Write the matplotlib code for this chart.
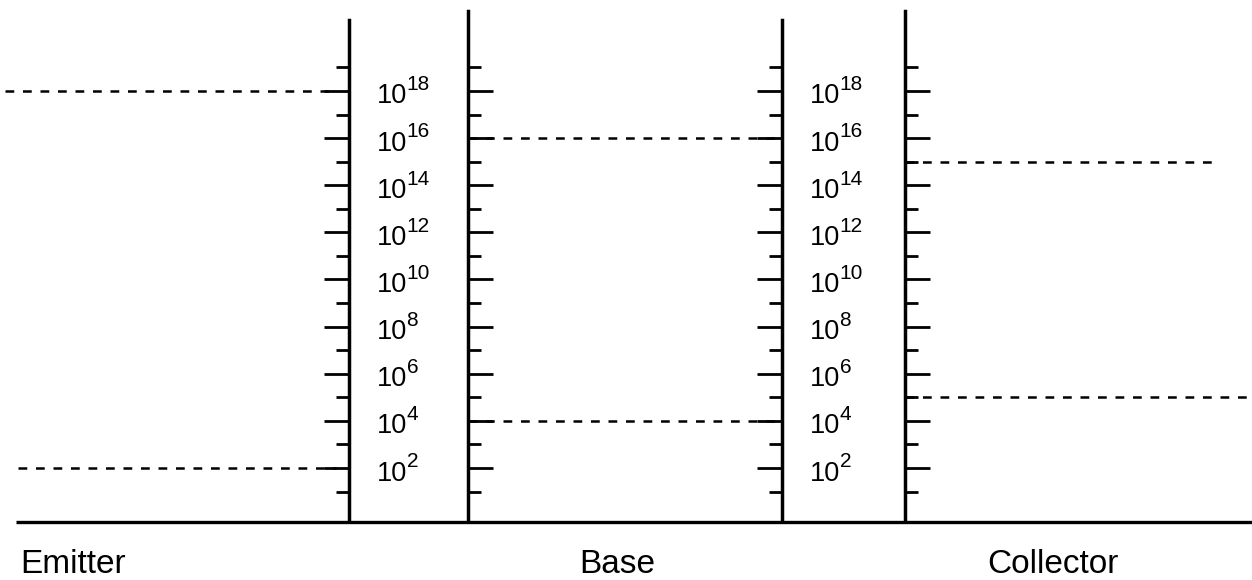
import matplotlib
matplotlib.use('Agg')
from matplotlib import pyplot as plt
from matplotlib.transforms import offset_copy

# Carrier concentrations per region (cm^-3)
regions = ['Emitter', 'Base', 'Collector']
majority = [1e18, 1e16, 1e15]
minority = [1e2, 1e4, 1e5]
label_exps = [18, 16, 14, 12, 10, 8, 6, 4, 2]
tick_exps = list(range(1, 20))

plt.rcParams['font.family'] = ['Liberation Sans', 'DejaVu Sans']

fig = plt.figure(figsize=(12.52, 5.8), dpi=100)
ax = fig.add_axes([0, 0.1, 1, 0.9])
ax.set_yscale('log')
ax.set_xlim(0, 1252)
ax.set_ylim(10**-0.29, 10**21.86)
ax.axis('off')

# baseline
ax.plot([16, 1252], [10**-0.29, 10**-0.29], color='black', lw=2.4,
        solid_capstyle='butt', clip_on=False)

# scale bars: x position, top exponent, tick direction
bars = [(349, 21.0, -1), (468, 21.4, 1), (782, 21.0, -1), (905, 21.4, 1)]
for x, top, d in bars:
    ax.plot([x, x], [10**-0.29, 10**top], color='black', lw=2.5)
    for e in tick_exps:
        length = 25 if e % 2 == 0 else 13
        ax.plot([x, x + d * length], [10**e, 10**e], color='black', lw=2.0,
                solid_capstyle='butt')

# exponent labels in the two gaps: "10" with a large superscript
sup = offset_copy(ax.transData, fig=fig, x=21.3, y=9.5, units='points')
for x in [377, 810]:
    for e in label_exps:
        ax.text(x, 10**(e - 0.53), '10', fontsize=19.5, ha='left', va='baseline')
        ax.text(x, 10**(e - 0.53), str(e), fontsize=15, ha='left',
                va='baseline', transform=sup)

# dashed carrier levels
dash = dict(color='black', lw=1.8, dashes=(3.5, 3.5))
ax.plot([5, 336], [majority[0]] * 2, **dash)
ax.plot([18, 336], [minority[0]] * 2, **dash)
ax.plot([468, 782], [majority[1]] * 2, **dash)
ax.plot([468, 782], [minority[1]] * 2, **dash)
ax.plot([905, 1218], [majority[2]] * 2, **dash)
ax.plot([905, 1250], [minority[2]] * 2, **dash)

# region names
ax.text(20, 10**-2.46, regions[0], fontsize=24, ha='left', va='baseline')
ax.text(617, 10**-2.46, regions[1], fontsize=24, ha='center', va='baseline')
ax.text(1053, 10**-2.46, regions[2], fontsize=24, ha='center', va='baseline')

fig.savefig('out.png', dpi=100)
